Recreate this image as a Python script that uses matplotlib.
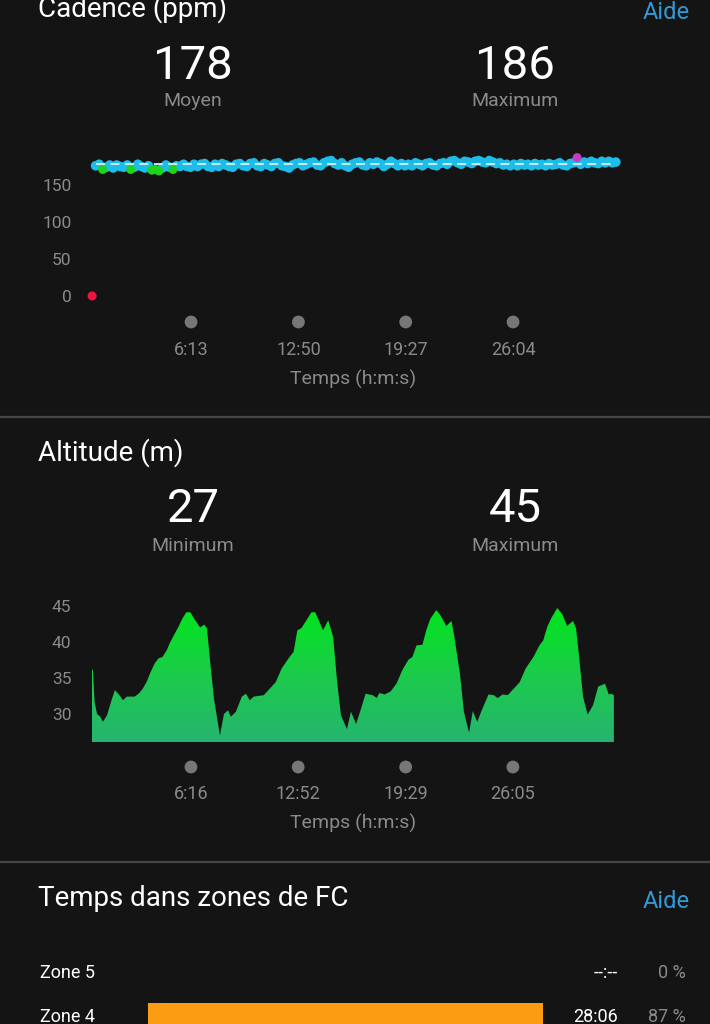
import numpy as np
import matplotlib.pyplot as plt
from matplotlib.colors import LinearSegmentedColormap
from matplotlib.transforms import blended_transform_factory

plt.rcParams['font.family'] = ['Roboto', 'DejaVu Sans']

BG = '#141414'
GREY = '#8a8a8a'
LINK = '#3399d6'

# cadence (ppm), one sample every 13 s starting at 7 s
cad_start = 7
cad_step = 13
cadence = [
    0, 176, 178, 171, 174, 177, 173, 177, 175, 174,
    177, 171, 174, 178, 175, 173, 176, 170, 171, 169,
    173, 177, 174, 171, 176, 175, 178, 175, 174, 178,
    175, 178, 179, 175, 174, 178, 175, 179, 177, 175,
    174, 178, 179, 176, 175, 179, 180, 176, 175, 179,
    177, 175, 179, 180, 176, 175, 173, 177, 179, 180,
    176, 178, 180, 181, 177, 176, 180, 182, 183, 179,
    177, 180, 176, 174, 178, 180, 181, 177, 176, 180,
    178, 181, 179, 175, 178, 182, 179, 176, 179, 176,
    178, 176, 180, 178, 176, 179, 180, 177, 176, 179,
    180, 178, 182, 183, 180, 178, 182, 181, 179, 182,
    183, 181, 180, 183, 181, 179, 180, 177, 178, 176,
    178, 176, 179, 177, 178, 176, 179, 177, 178, 176,
    179, 177, 178, 180, 177, 176, 179, 180, 187, 178,
    181, 179, 182, 180, 179, 182, 180, 182, 180, 181,
]
cad_avg = 178
cad_max = 186
cad_yticks = [0, 50, 100, 150]
cad_xticks = ['6:13', '12:50', '19:27', '26:04']

# altitude (m) against elapsed seconds
alt_time = [10, 14, 20, 29, 41, 51, 66, 81, 95, 110, 125, 139, 154, 168, 183,
            198, 212, 227, 242, 256, 271, 286, 300, 330, 344, 359, 374, 388,
            410, 425, 435, 447, 461, 483, 498, 513, 523, 542, 564, 579, 593,
            608, 645, 667, 689, 711, 740, 755, 769, 784, 806, 821, 835, 850,
            864, 883, 901, 916, 930, 952, 967, 986, 1004, 1021, 1047, 1062,
            1072, 1091, 1113, 1135, 1157, 1179, 1194, 1209, 1231, 1245, 1260,
            1282, 1297, 1319, 1338, 1348, 1370, 1384, 1403, 1417, 1433, 1450,
            1475, 1494, 1509, 1527, 1546, 1568, 1590, 1612, 1641, 1663, 1677,
            1692, 1707, 1729, 1748, 1765, 1787, 1798, 1809, 1824, 1841, 1861,
            1880, 1894, 1905, 1919, 1929, 1938]
altitude = [36.2, 36.1, 31.7, 30.0, 29.6, 28.9, 29.8, 31.7, 33.3, 32.7, 31.9,
            32.4, 32.4, 32.4, 32.8, 33.5, 34.4, 35.8, 37.0, 37.7, 37.9, 38.8,
            40.0, 42.1, 43.2, 44.1, 44.1, 43.2, 42.0, 42.4, 41.9, 37.2, 32.1,
            27.0, 30.0, 30.5, 29.6, 30.3, 32.4, 32.8, 31.9, 32.4, 32.6, 33.5,
            34.4, 36.3, 37.9, 38.6, 41.6, 41.9, 43.2, 44.1, 44.1, 42.8, 41.6,
            43.0, 40.7, 34.4, 29.8, 27.9, 30.3, 28.6, 30.7, 32.8, 32.6, 32.2,
            32.9, 32.7, 33.1, 34.2, 36.1, 37.5, 37.9, 39.5, 39.6, 41.6, 43.2,
            44.4, 43.7, 42.2, 42.9, 40.9, 35.4, 30.3, 27.4, 30.4, 28.9, 30.5,
            32.7, 32.6, 32.2, 32.7, 32.6, 33.5, 34.4, 36.3, 37.9, 39.5, 40.2,
            42.1, 43.3, 44.7, 43.8, 42.2, 42.9, 41.9, 38.1, 32.4, 29.9, 31.2,
            33.8, 34.0, 34.2, 32.7, 32.8, 32.6]
alt_min = 27
alt_max = 45
alt_yticks = [30, 35, 40, 45]
alt_xticks = ['6:16', '12:52', '19:29', '26:05']

zones = ['Zone 5', 'Zone 4']
zone_times = ['--:--', '28:06']
zone_pct = [0, 87]

W, H = 710, 1024
fig = plt.figure(figsize=(W / 100, H / 100), dpi=100, facecolor=BG)


def fx(x):
    return x / W


def fy(y):
    return 1 - y / H


def add_ax(left, top, right, bottom):
    a = fig.add_axes([fx(left), fy(bottom), (right - left) / W, (bottom - top) / H])
    a.set_facecolor(BG)
    for s in a.spines.values():
        s.set_visible(False)
    return a


def to_sec(s):
    m, sec = s.split(':')
    return int(m) * 60 + int(sec)


def txt(x, y, s, size, color='white', ha='left', **kw):
    fig.text(fx(x), fy(y), s, fontsize=size, color=color, ha=ha, va='baseline', **kw)


def time_axis(ax, labels, dot_y, lab_y):
    tr = blended_transform_factory(ax.transData, fig.transFigure)
    secs = [to_sec(l) for l in labels]
    ax.scatter(secs, [fy(dot_y)] * len(secs), s=85, color='#777777', transform=tr,
               clip_on=False, edgecolors='none')
    for sx, l in zip(secs, labels):
        ax.text(sx, fy(lab_y), l, transform=tr, ha='center', va='baseline',
                fontsize=13, color=GREY)
    ax.set_xticks([])


def cad_color(v):
    if v < 150:
        return '#f0143c'
    if v <= 172:
        return '#1ed41e'
    if v >= 185:
        return '#c43bc6'
    return '#1dbde9'


# separators
for yy in (417, 862):
    fig.add_artist(plt.Line2D([0, 1], [fy(yy), fy(yy)], color='#474747', lw=1.6))

# ---- cadence ----
txt(38, 17, 'Cadence (ppm)', 20)
txt(690, 19, 'Aide', 17, color=LINK, ha='right')
txt(193, 79, str(cad_avg), 34, ha='center')
txt(515, 79, str(cad_max), 34, ha='center')
txt(193, 106, 'Moyen', 14, color=GREY, ha='center')
txt(515, 106, 'Maximum', 14, color=GREY, ha='center')

ax1 = add_ax(84, 140, 625, 305)
cad_t = cad_start + cad_step * np.arange(len(cadence))
cad = np.array(cadence)
cols = np.array([cad_color(v) for v in cad])
blue = cols == '#1dbde9'
ax1.scatter(cad_t[blue], cad[blue], s=48, c=cols[blue], edgecolors='none', zorder=3)
ax1.scatter(cad_t[~blue], cad[~blue], s=42, c=cols[~blue], edgecolors='none', zorder=4)
ax1.plot([cad_t[1], cad_t[-1]], [cad_avg, cad_avg], ls=(0, (5, 3)), color='#d2f0fa',
         lw=1.3, zorder=5)
ax1.set_xlim(-23, 1978)
ax1.set_ylim(-12.2, 210.8)
ax1.set_yticks(cad_yticks)
ax1.tick_params(axis='y', length=0, pad=9, labelcolor=GREY, labelsize=12.5)
time_axis(ax1, cad_xticks, 322, 355)
txt(353, 385, 'Temps (h:m:s)', 14, color=GREY, ha='center')

# ---- altitude ----
txt(38, 461, 'Altitude (m)', 20)
txt(193, 522, str(alt_min), 34, ha='center')
txt(515, 522, str(alt_max), 34, ha='center')
txt(193, 551, 'Minimum', 14, color=GREY, ha='center')
txt(515, 551, 'Maximum', 14, color=GREY, ha='center')

ax2 = add_ax(84, 595, 625, 742)
floor = 26.1
poly = ax2.fill_between(alt_time, altitude, floor, color='none', lw=0)
cmap = LinearSegmentedColormap.from_list('alt', ['#26b470', '#1ccb4a', '#00e61c'])
grad = np.linspace(0, 1, 256).reshape(-1, 1)
im = ax2.imshow(grad, extent=[alt_time[0], alt_time[-1], floor, max(altitude)],
                aspect='auto', cmap=cmap, origin='lower', zorder=2)
im.set_clip_path(poly.get_paths()[0], transform=ax2.transData)
ax2.set_xlim(-19, 1979)
ax2.set_ylim(floor, 46.5)
ax2.set_yticks(alt_yticks)
ax2.tick_params(axis='y', length=0, pad=9, labelcolor=GREY, labelsize=12.5)
time_axis(ax2, alt_xticks, 767, 799)
txt(353, 829, 'Temps (h:m:s)', 14, color=GREY, ha='center')

# ---- heart rate zones ----
txt(38, 906, 'Temps dans zones de FC', 20)
txt(690, 908, 'Aide', 17, color=LINK, ha='right')

ax3 = add_ax(148, 951, 602, 1039)
rows = np.arange(len(zones))
ax3.barh(rows, zone_pct, height=0.64, color='#fb9c12', zorder=3)
ax3.set_xlim(0, 100)
ax3.set_ylim(len(zones) - 0.5, -0.5)
ax3.set_xticks([])
ax3.set_yticks([])
tr3 = blended_transform_factory(fig.transFigure, ax3.transData)
for r, z, tm, p in zip(rows, zones, zone_times, zone_pct):
    ax3.text(fx(40), r, z, transform=tr3, va='center', fontsize=13, color='white')
    ax3.text(fx(618), r, tm, transform=tr3, va='center', ha='right', fontsize=13,
             color='white')
    ax3.text(fx(686), r, f'{p} %', transform=tr3, va='center', ha='right',
             fontsize=13, color=GREY)

fig.savefig('out.png', dpi=100, facecolor=BG)
